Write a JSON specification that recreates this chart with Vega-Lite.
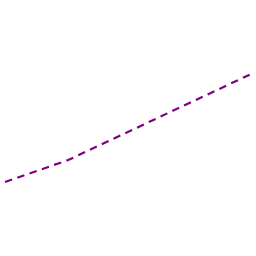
{
  "$schema": "https://vega.github.io/schema/vega-lite/v6.json",
  "width": 256,
  "height": 256,
  "autosize": {"type": "fit", "contains": "padding"},
  "padding": 0,
  "config": {"view": {"stroke": null}},
  "data": {"values": [
    {"x": 0, "y": 74},
    {"x": 65, "y": 96},
    {"x": 253, "y": 182}
  ]},
  "mark": {"type": "line", "color": "#800080", "strokeWidth": 2.2, "strokeDash": [7.5, 5.5]},
  "encoding": {
    "x": {"field": "x", "type": "quantitative", "scale": {"domain": [0, 256]}, "axis": null},
    "y": {"field": "y", "type": "quantitative", "scale": {"domain": [0, 256]}, "axis": null}
  }
}
